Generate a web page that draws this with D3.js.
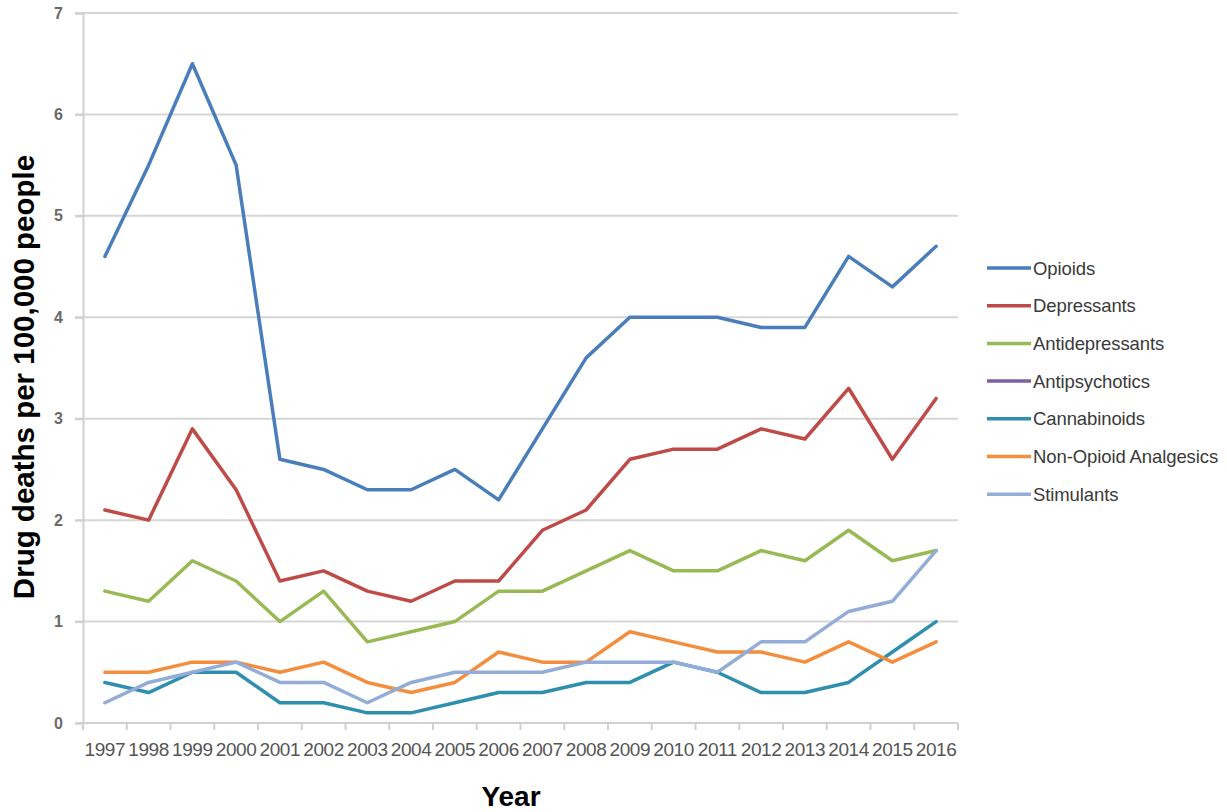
<!DOCTYPE html>
<html>
<head>
<meta charset="utf-8">
<script src="https://cdn.jsdelivr.net/npm/d3@7"></script>
<style>
  html, body { margin: 0; padding: 0; background: #fff; }
  svg { display: block; }
</style>
</head>
<body>
<svg id="chart" width="1227" height="812"></svg>
<script>
// Drug deaths per 100,000 people, 1997–2016
const years = ["1997","1998","1999","2000","2001","2002","2003","2004","2005","2006",
               "2007","2008","2009","2010","2011","2012","2013","2014","2015","2016"];

const opioids        = [4.6,5.5,6.5,5.5,2.6,2.5,2.3,2.3,2.5,2.2,2.9,3.6,4.0,4.0,4.0,3.9,3.9,4.6,4.3,4.7];
const depressants    = [2.1,2.0,2.9,2.3,1.4,1.5,1.3,1.2,1.4,1.4,1.9,2.1,2.6,2.7,2.7,2.9,2.8,3.3,2.6,3.2];
const antidepressants= [1.3,1.2,1.6,1.4,1.0,1.3,0.8,0.9,1.0,1.3,1.3,1.5,1.7,1.5,1.5,1.7,1.6,1.9,1.6,1.7];
const antipsychotics = [];
const cannabinoids   = [0.4,0.3,0.5,0.5,0.2,0.2,0.1,0.1,0.2,0.3,0.3,0.4,0.4,0.6,0.5,0.3,0.3,0.4,0.7,1.0];
const nonOpioid      = [0.5,0.5,0.6,0.6,0.5,0.6,0.4,0.3,0.4,0.7,0.6,0.6,0.9,0.8,0.7,0.7,0.6,0.8,0.6,0.8];
const stimulants     = [0.2,0.4,0.5,0.6,0.4,0.4,0.2,0.4,0.5,0.5,0.5,0.6,0.6,0.6,0.5,0.8,0.8,1.1,1.2,1.7];

const seriesNames  = ["Opioids","Depressants","Antidepressants","Antipsychotics","Cannabinoids","Non-Opioid Analgesics","Stimulants"];
const seriesValues = [opioids, depressants, antidepressants, antipsychotics, cannabinoids, nonOpioid, stimulants];
const seriesColors = ["#4a7ebb","#be4b48","#98b954","#7d60a0","#2f8fae","#f28e3e","#93acd8"];

const yTicks = [0,1,2,3,4,5,6,7];

const svg = d3.select("#chart");
const plot = { left: 83, right: 958, top: 13, bottom: 723 };

const x = d3.scaleBand().domain(years).range([plot.left, plot.right]);
const y = d3.scaleLinear().domain([0, 7]).range([plot.bottom, plot.top]);

// horizontal gridlines
svg.append("g")
  .selectAll("line")
  .data(yTicks.filter(d => d > 0))
  .join("line")
  .attr("x1", plot.left - 8).attr("x2", plot.right)
  .attr("y1", d => y(d)).attr("y2", d => y(d))
  .attr("stroke", "#d6d6d6").attr("stroke-width", 2);

// y axis
const yAxis = svg.append("g")
  .attr("transform", `translate(${plot.left},0)`)
  .call(d3.axisLeft(y).tickValues(yTicks).tickSize(8).tickPadding(12).tickFormat(d3.format("d")));
yAxis.select(".domain").attr("stroke", "#d0d0d0").attr("stroke-width", 2);
yAxis.selectAll(".tick line").attr("stroke", "#d0d0d0").attr("stroke-width", 2);
yAxis.selectAll(".tick text")
  .attr("fill", "#6a6a6a")
  .style("font-family", "'Liberation Sans', Arial, sans-serif")
  .style("font-size", "16px")
  .style("font-weight", "bold");

// x axis with ticks between categories
const xAxisG = svg.append("g").attr("transform", `translate(0,${plot.bottom})`);
xAxisG.append("line")
  .attr("x1", plot.left - 8).attr("x2", plot.right)
  .attr("stroke", "#d0d0d0").attr("stroke-width", 2);
const boundaries = years.map(d => x(d)).concat([plot.right]);
xAxisG.selectAll("line.tk")
  .data(boundaries)
  .join("line").attr("class", "tk")
  .attr("x1", d => d).attr("x2", d => d)
  .attr("y1", 0).attr("y2", 7)
  .attr("stroke", "#d0d0d0").attr("stroke-width", 2);
xAxisG.selectAll("text")
  .data(years)
  .join("text")
  .attr("x", d => x(d) + x.bandwidth() / 2)
  .attr("y", 33)
  .attr("text-anchor", "middle")
  .attr("fill", "#555")
  .style("font-family", "'Liberation Sans', Arial, sans-serif")
  .style("font-size", "19px")
  .style("letter-spacing", "-0.4px")
  .text(d => d);

// series lines
const line = d3.line()
  .x((d, i) => x(years[i]) + x.bandwidth() / 2)
  .y(d => y(d));

svg.append("g")
  .selectAll("path")
  .data(seriesValues.map((v, i) => ({ values: v, color: seriesColors[i] })).filter(s => s.values.length))
  .join("path")
  .attr("d", s => line(s.values))
  .attr("fill", "none")
  .attr("stroke", s => s.color)
  .attr("stroke-width", 3.5)
  .attr("stroke-linejoin", "round")
  .attr("stroke-linecap", "round");

// legend
const legend = svg.append("g").attr("transform", "translate(987,268)");
const rowH = 37.7;
const items = legend.selectAll("g")
  .data(seriesNames)
  .join("g")
  .attr("transform", (d, i) => `translate(0,${i * rowH})`);
items.append("line")
  .attr("x1", 0).attr("x2", 44)
  .attr("stroke", (d, i) => seriesColors[i])
  .attr("stroke-width", 3.5);
items.append("text")
  .attr("x", 46).attr("y", 6.5)
  .attr("fill", "#3a3a3a")
  .style("font-family", "'Liberation Sans', Arial, sans-serif")
  .style("font-size", "18.5px")
  .style("letter-spacing", "-0.1px")
  .text(d => d);

// axis titles
svg.append("text")
  .attr("x", 511).attr("y", 806)
  .attr("text-anchor", "middle")
  .attr("fill", "#000")
  .style("font-family", "'Liberation Sans', Arial, sans-serif")
  .style("font-size", "28px")
  .style("font-weight", "bold")
  .text("Year");

svg.append("text")
  .attr("transform", "translate(34,377) rotate(-90)")
  .attr("text-anchor", "middle")
  .attr("fill", "#000")
  .style("font-family", "'Liberation Sans', Arial, sans-serif")
  .style("font-size", "29.5px")
  .style("font-weight", "bold")
  .text("Drug deaths per 100,000 people");
</script>
</body>
</html>
